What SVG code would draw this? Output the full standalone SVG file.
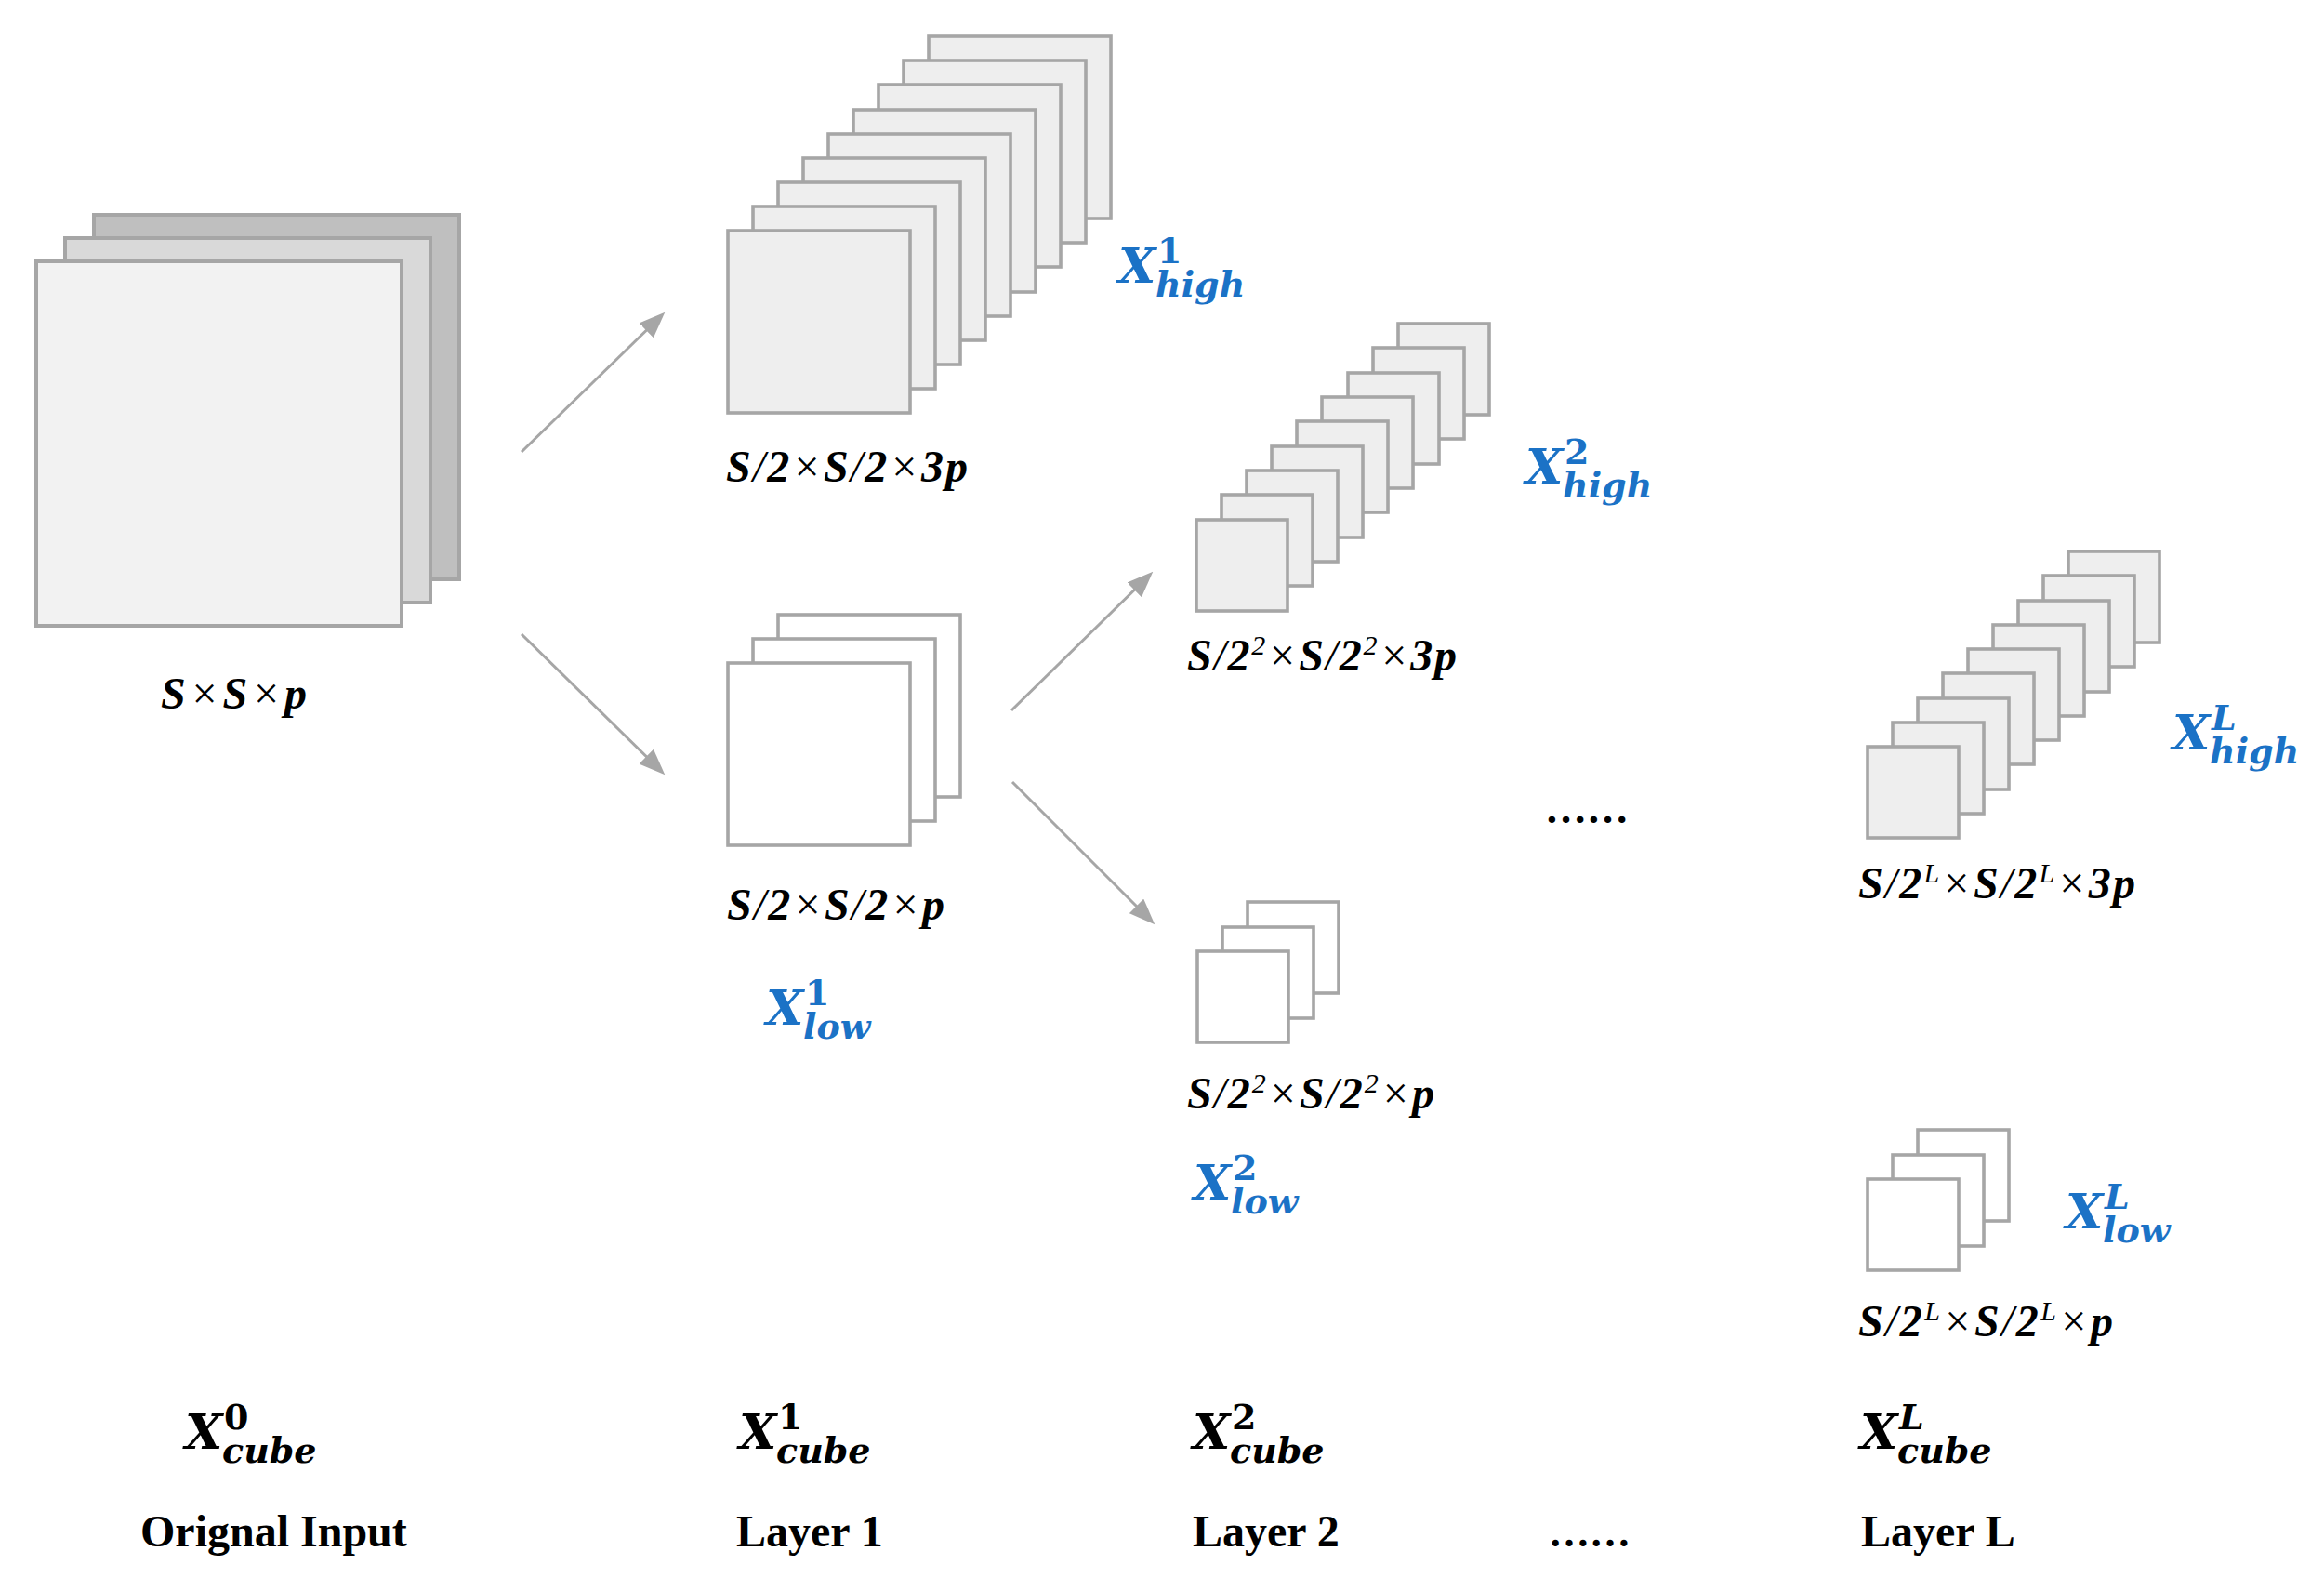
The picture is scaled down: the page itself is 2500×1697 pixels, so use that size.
<svg xmlns="http://www.w3.org/2000/svg" width="2500" height="1697" viewBox="0 0 2500 1697">
<style>
.sq{stroke:#a6a6a6;stroke-width:3.6}
.hi{fill:#eeeeee}
.lo{fill:#ffffff}
.dim{font-family:"Liberation Serif","Times New Roman",serif;font-style:italic;font-weight:bold;font-size:48px;fill:#000}
.n{font-weight:normal}
.sp{font-size:30px}
.mx{font-family:"DejaVu Serif",serif;font-style:italic;font-weight:bold;font-size:52px}
.ms{font-family:"DejaVu Serif",serif;font-style:italic;font-weight:bold;font-size:38px}
.up{font-style:normal}
.blue{fill:#1b72c6}
.blk{fill:#000}
.cap{font-family:"Liberation Serif","Times New Roman",serif;font-weight:bold;font-size:48px;fill:#000}
.arr{stroke:#a6a6a6;stroke-width:3;fill:none}
</style>
<defs>
<marker id="ah" markerUnits="userSpaceOnUse" markerWidth="28" markerHeight="22" refX="22" refY="11" orient="auto">
<path d="M0,0 L28,11 L0,22 z" fill="#a6a6a6"/>
</marker>
</defs>
<rect width="2500" height="1697" fill="#fff"/>

<g id="original-input">
<rect x="101" y="231" width="393" height="392" fill="#bfbfbf" class="sq" style="stroke-width:4"/>
<rect x="70" y="256" width="393" height="392" fill="#d9d9d9" class="sq" style="stroke-width:4"/>
<rect x="39" y="281" width="393" height="392" fill="#f2f2f2" class="sq" style="stroke-width:4"/>
<text class="dim" x="173" y="762" textLength="157" lengthAdjust="spacing">S<tspan class="n">×</tspan>S<tspan class="n">×</tspan>p</text>
</g>

<g id="layer1-high">
<rect class="sq hi" x="999" y="39" width="196" height="196"/>
<rect class="sq hi" x="972" y="65" width="196" height="196"/>
<rect class="sq hi" x="945" y="91" width="196" height="196"/>
<rect class="sq hi" x="918" y="118" width="196" height="196"/>
<rect class="sq hi" x="891" y="144" width="196" height="196"/>
<rect class="sq hi" x="864" y="170" width="196" height="196"/>
<rect class="sq hi" x="837" y="196" width="196" height="196"/>
<rect class="sq hi" x="810" y="222" width="196" height="196"/>
<rect class="sq hi" x="783" y="248" width="196" height="196"/>
<text class="dim" x="781" y="518" textLength="260" lengthAdjust="spacing">S<tspan class="n">/</tspan>2<tspan class="n">×</tspan>S<tspan class="n">/</tspan>2<tspan class="n">×</tspan>3p</text>
<text class="blue"><tspan class="mx" x="1203" y="304">X</tspan><tspan class="ms up" x="1245" y="283">1</tspan><tspan class="ms" x="1243" y="319">high</tspan></text>
</g>

<g id="layer1-low">
<rect class="sq lo" x="837" y="661" width="196" height="196"/>
<rect class="sq lo" x="810" y="687" width="196" height="196"/>
<rect class="sq lo" x="783" y="713" width="196" height="196"/>
<text class="dim" x="782" y="989" textLength="234" lengthAdjust="spacing">S<tspan class="n">/</tspan>2<tspan class="n">×</tspan>S<tspan class="n">/</tspan>2<tspan class="n">×</tspan>p</text>
<text class="blue"><tspan class="mx" x="824" y="1102">X</tspan><tspan class="ms up" x="866" y="1081">1</tspan><tspan class="ms" x="864" y="1117">low</tspan></text>
</g>

<g id="layer2-high">
<rect class="sq hi" x="1504" y="348" width="98" height="98"/>
<rect class="sq hi" x="1477" y="374" width="98" height="98"/>
<rect class="sq hi" x="1450" y="401" width="98" height="98"/>
<rect class="sq hi" x="1422" y="427" width="98" height="98"/>
<rect class="sq hi" x="1395" y="453" width="98" height="98"/>
<rect class="sq hi" x="1368" y="480" width="98" height="98"/>
<rect class="sq hi" x="1341" y="506" width="98" height="98"/>
<rect class="sq hi" x="1314" y="532" width="98" height="98"/>
<rect class="sq hi" x="1287" y="559" width="98" height="98"/>
<text class="dim" x="1277" y="721" textLength="290" lengthAdjust="spacing">S<tspan class="n">/</tspan>2<tspan class="sp n" dy="-17">2</tspan><tspan class="n" dy="17">×</tspan>S<tspan class="n">/</tspan>2<tspan class="sp n" dy="-17">2</tspan><tspan class="n" dy="17">×</tspan>3p</text>
<text class="blue"><tspan class="mx" x="1641" y="520">X</tspan><tspan class="ms up" x="1683" y="499">2</tspan><tspan class="ms" x="1681" y="535">high</tspan></text>
</g>

<g id="layer2-low">
<rect class="sq lo" x="1342" y="970" width="98" height="98"/>
<rect class="sq lo" x="1315" y="997" width="98" height="98"/>
<rect class="sq lo" x="1288" y="1023" width="98" height="98"/>
<text class="dim" x="1277" y="1192" textLength="266" lengthAdjust="spacing">S<tspan class="n">/</tspan>2<tspan class="sp n" dy="-17">2</tspan><tspan class="n" dy="17">×</tspan>S<tspan class="n">/</tspan>2<tspan class="sp n" dy="-17">2</tspan><tspan class="n" dy="17">×</tspan>p</text>
<text class="blue"><tspan class="mx" x="1284" y="1290">X</tspan><tspan class="ms up" x="1326" y="1269">2</tspan><tspan class="ms" x="1324" y="1305">low</tspan></text>
</g>

<g id="layerL-high">
<rect class="sq hi" x="2225" y="593" width="98" height="98"/>
<rect class="sq hi" x="2198" y="619" width="98" height="98"/>
<rect class="sq hi" x="2171" y="646" width="98" height="98"/>
<rect class="sq hi" x="2144" y="672" width="98" height="98"/>
<rect class="sq hi" x="2117" y="698" width="98" height="98"/>
<rect class="sq hi" x="2090" y="724" width="98" height="98"/>
<rect class="sq hi" x="2063" y="751" width="98" height="98"/>
<rect class="sq hi" x="2036" y="777" width="98" height="98"/>
<rect class="sq hi" x="2009" y="803" width="98" height="98"/>
<text class="dim" x="1999" y="966" textLength="298" lengthAdjust="spacing">S<tspan class="n">/</tspan>2<tspan class="sp n" dy="-17">L</tspan><tspan class="n" dy="17">×</tspan>S<tspan class="n">/</tspan>2<tspan class="sp n" dy="-17">L</tspan><tspan class="n" dy="17">×</tspan>3p</text>
<text class="blue"><tspan class="mx" x="2337" y="806">X</tspan><tspan class="ms" x="2379" y="785">L</tspan><tspan class="ms" x="2377" y="821">high</tspan></text>
</g>

<g id="layerL-low">
<rect class="sq lo" x="2063" y="1215" width="98" height="98"/>
<rect class="sq lo" x="2036" y="1242" width="98" height="98"/>
<rect class="sq lo" x="2009" y="1268" width="98" height="98"/>
<text class="dim" x="1999" y="1437" textLength="274" lengthAdjust="spacing">S<tspan class="n">/</tspan>2<tspan class="sp n" dy="-17">L</tspan><tspan class="n" dy="17">×</tspan>S<tspan class="n">/</tspan>2<tspan class="sp n" dy="-17">L</tspan><tspan class="n" dy="17">×</tspan>p</text>
<text class="blue"><tspan class="mx" x="2222" y="1321">X</tspan><tspan class="ms" x="2264" y="1300">L</tspan><tspan class="ms" x="2262" y="1336">low</tspan></text>
</g>

<g id="connectors">
<line class="arr" x1="561" y1="486" x2="711" y2="340" marker-end="url(#ah)"/>
<line class="arr" x1="561" y1="682" x2="711" y2="829" marker-end="url(#ah)"/>
<line class="arr" x1="1088" y1="764" x2="1236" y2="619" marker-end="url(#ah)"/>
<line class="arr" x1="1089" y1="841" x2="1238" y2="990" marker-end="url(#ah)"/>
</g>

<g id="middle-ellipsis">
<text x="1662" y="885" font-family="Liberation Serif, serif" font-weight="bold" font-size="45">……</text>
</g>

<g id="bottom-labels">
<text class="blk"><tspan class="mx" x="199" y="1558">X</tspan><tspan class="ms up" x="241" y="1537">0</tspan><tspan class="ms" x="239" y="1573">cube</tspan></text>
<text class="blk"><tspan class="mx" x="795" y="1558">X</tspan><tspan class="ms up" x="837" y="1537">1</tspan><tspan class="ms" x="835" y="1573">cube</tspan></text>
<text class="blk"><tspan class="mx" x="1283" y="1558">X</tspan><tspan class="ms up" x="1325" y="1537">2</tspan><tspan class="ms" x="1323" y="1573">cube</tspan></text>
<text class="blk"><tspan class="mx" x="2001" y="1558">X</tspan><tspan class="ms" x="2043" y="1537">L</tspan><tspan class="ms" x="2041" y="1573">cube</tspan></text>
<text class="cap" x="151" y="1663">Orignal Input</text>
<text class="cap" x="792" y="1663">Layer 1</text>
<text class="cap" x="1283" y="1663">Layer 2</text>
<text class="cap" x="1666" y="1663" font-size="44px" style="font-size:44px">……</text>
<text class="cap" x="2002" y="1663">Layer L</text>
</g>
</svg>
